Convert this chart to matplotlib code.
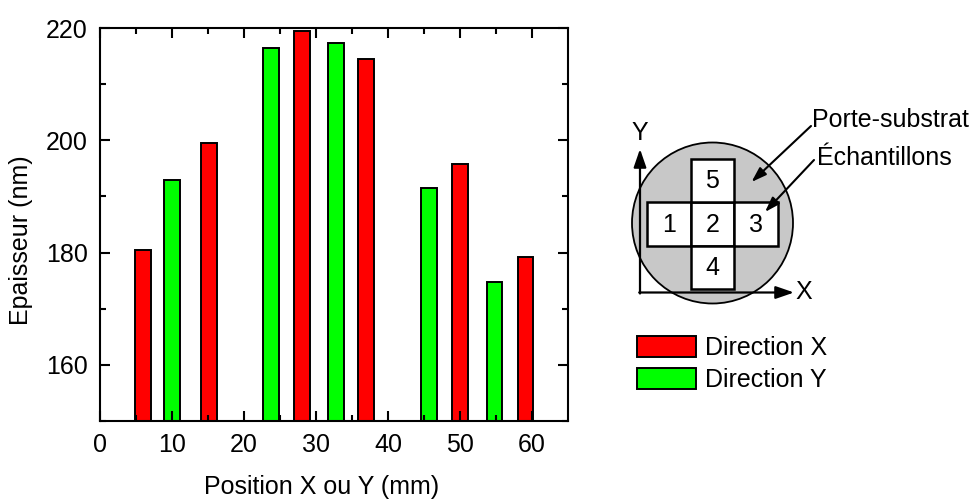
import matplotlib
matplotlib.use("Agg")
import matplotlib.pyplot as plt
from matplotlib.patches import Circle, Rectangle

plt.rcParams['font.family'] = ['Liberation Sans', 'DejaVu Sans']

# Data
pos_x = [6.0, 15.1, 28.0, 37.0, 50.0, 59.1]
thick_x = [180.5, 199.6, 219.5, 214.5, 195.8, 179.2]
pos_y = [10.0, 23.7, 32.8, 45.7, 54.8]
thick_y = [193.0, 216.5, 217.4, 191.6, 174.7]
labels = ["Direction X", "Direction Y"]
xticks = [0, 10, 20, 30, 40, 50, 60]
yticks = [160, 180, 200, 220]
sample_labels = ["1", "2", "3", "4", "5"]

FS = 18
fig = plt.figure(figsize=(9.8, 5.0), dpi=100)
ax = fig.add_axes([100/980, (500-420.7)/500, 468/980, (420.7-28.3)/500])

base = 150
bx = ax.bar(pos_x, [v - base for v in thick_x], bottom=base, width=2.2,
            color='#ff0000', edgecolor='black', linewidth=1.4, label=labels[0])
by = ax.bar(pos_y, [v - base for v in thick_y], bottom=base, width=2.2,
            color='#00ff00', edgecolor='black', linewidth=1.4, label=labels[1])

ax.set_xlim(0, 65)
ax.set_ylim(150, 220)
ax.set_xticks(xticks)
ax.set_yticks(yticks)
ax.set_xticks(range(5, 65, 10), minor=True)
ax.set_yticks([150, 170, 190, 210], minor=True)
ax.tick_params(which='both', direction='in', top=True, right=True, width=1.5,
               labelsize=FS)
ax.tick_params(which='major', length=7, pad=9)
ax.tick_params(which='minor', length=4.5)
for s in ax.spines.values():
    s.set_linewidth(1.5)
ax.set_xlabel("Position X ou Y (mm)", fontsize=FS)
ax.set_ylabel("Epaisseur (nm)", fontsize=FS)
ax.xaxis.set_label_coords(0.474, -0.17)
ax.yaxis.set_label_coords(-0.169, 0.46)
ax.xaxis.label.set_va('center')
ax.yaxis.label.set_va('center')

# Legend
leg = fig.legend(handles=[bx, by], labels=labels, loc='upper left',
                 bbox_to_anchor=(617/980, 1 - 316/500), frameon=False,
                 fontsize=FS, handlelength=2.35, handleheight=0.9,
                 handletextpad=0.35, labelspacing=0.33, borderpad=0.3)

# Schematic in pixel coordinates
ov = fig.add_axes([0, 0, 1, 1])
ov.set_xlim(0, 980)
ov.set_ylim(500, 0)
ov.axis('off')
ov.patch.set_alpha(0)

ov.add_patch(Circle((712.5, 223), 80.5, facecolor='#c8c8c8', edgecolor='black',
                    linewidth=1.3, zorder=1))
s = 43.5
cells = {"5": (690.7, 158.5), "1": (647.2, 202.0), "2": (690.7, 202.0),
         "3": (734.2, 202.0), "4": (690.7, 245.5)}
for lab in sample_labels:
    x0, y0 = cells[lab]
    ov.add_patch(Rectangle((x0, y0), s, s, facecolor='white', edgecolor='black',
                           linewidth=1.8, zorder=2))
    ov.text(x0 + s/2, y0 + s/2 + 1, lab, fontsize=FS, ha='center', va='center', zorder=3)

# XY axes arrows
big = dict(arrowstyle='-|>,head_length=1.1,head_width=0.38',
           color='black', lw=1.6, shrinkA=0, shrinkB=0)
ov.annotate('', xy=(640, 149), xytext=(640, 293.5), arrowprops=big, zorder=4)
ov.annotate('', xy=(794, 292.5), xytext=(639.2, 292.5), arrowprops=big, zorder=4)
ov.text(640, 133, "Y", fontsize=FS, ha='center', va='center')
ov.text(795, 292, "X", fontsize=FS, ha='left', va='center')

# Annotation arrows
small = dict(arrowstyle='-|>,head_length=0.9,head_width=0.3',
             color='black', lw=1.5, shrinkA=0, shrinkB=0)
ov.annotate('', xy=(751.5, 182), xytext=(811, 126), arrowprops=small, zorder=4)
ov.annotate('', xy=(765, 212), xytext=(814, 160), arrowprops=small, zorder=4)
ov.text(812, 120, "Porte-substrat", fontsize=FS, ha='left', va='center')
ov.text(817, 158, "Échantillons", fontsize=FS, ha='left', va='center')

fig.savefig("out.png", dpi=100)
